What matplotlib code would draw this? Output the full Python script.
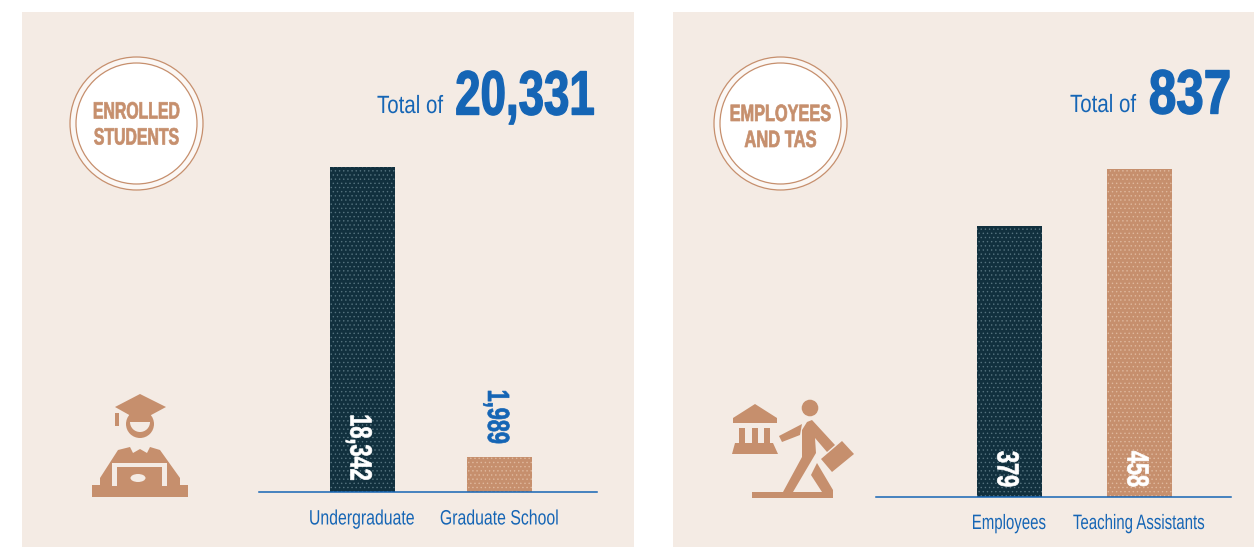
import matplotlib
matplotlib.use("Agg")
import matplotlib.pyplot as plt
from matplotlib.patches import Rectangle, Circle, Polygon, Ellipse, Wedge
from matplotlib.patheffects import AbstractPathEffect
from matplotlib.transforms import Affine2D, Bbox

students_labels = ["Undergraduate", "Graduate School"]
students_values = [18342, 1989]
staff_labels = ["Employees", "Teaching Assistants"]
staff_values = [379, 458]

PANEL = "#f4ebe4"
TAN = "#c68f6d"
NAVY = "#11303e"
BLUE = "#1565b5"
FONT = ["Liberation Sans", "DejaVu Sans"]
W, H = 1254, 548

plt.rcParams["hatch.linewidth"] = 0.5
fig = plt.figure(figsize=(W / 100, H / 100), dpi=100, facecolor="white")


class Squeeze(AbstractPathEffect):
    # no condensed font here, so squeeze the glyphs around the centre of the text
    def __init__(self, extent, sx=1.0, sy=1.0, stroke=0):
        super().__init__()
        self.extent = extent
        self.sx = sx
        self.sy = sy
        self.stroke = stroke

    def draw_path(self, renderer, gc, tpath, affine, rgbFace=None):
        bb = self.extent()
        cx, cy = (bb.x0 + bb.x1) / 2, (bb.y0 + bb.y1) / 2
        squeeze = Affine2D().translate(-cx, -cy).scale(self.sx, self.sy).translate(cx, cy)
        gc0 = renderer.new_gc()
        gc0.copy_properties(gc)
        if self.stroke:
            gc0.set_foreground(rgbFace)
            gc0.set_linewidth(self.stroke)
        renderer.draw_path(gc0, tpath, affine + squeeze, rgbFace)
        gc0.restore()


def narrow(txt, sx=1.0, sy=1.0, stroke=0):
    full_extent = txt.get_window_extent

    # report the box of the squeezed glyphs, not of the full width text
    def squeezed_extent(renderer=None, dpi=None):
        bb = full_extent(renderer, dpi)
        cx, cy = (bb.x0 + bb.x1) / 2, (bb.y0 + bb.y1) / 2
        return Bbox.from_extents(cx - bb.width * sx / 2, cy - bb.height * sy / 2,
                                 cx + bb.width * sx / 2, cy + bb.height * sy / 2)

    txt.set_path_effects([Squeeze(full_extent, sx, sy, stroke)])
    txt.get_window_extent = squeezed_extent
    return txt


# background layer in pixel coordinates
bg = fig.add_axes([0, 0, 1, 1], zorder=0)
bg.set_xlim(0, W)
bg.set_ylim(H, 0)
bg.axis("off")


def poly(pts, color=TAN, z=3):
    bg.add_patch(Polygon(pts, closed=True, fc=color, ec="none", zorder=z))


def rect(x, y, w, h, color=TAN, z=3):
    bg.add_patch(Rectangle((x, y), w, h, fc=color, ec="none", zorder=z))


def badge(cx, cy, lines):
    bg.add_patch(Circle((cx, cy), 66.5, fc="#fbf7f4", ec=TAN, lw=0.9, zorder=2))
    bg.add_patch(Circle((cx, cy), 60.5, fc="white", ec=TAN, lw=0.9, zorder=2))
    for text, y, sx in lines:
        narrow(bg.text(cx, y, text, color=TAN, fontsize=17, fontweight="bold", family=FONT,
                       ha="center", va="center", zorder=4), sx=sx, stroke=0.5)


def total(label_cx, label_y, num_cx, num_y, num, num_sx):
    narrow(bg.text(label_cx, label_y, "Total of", color=BLUE, fontsize=18, family=FONT,
                   ha="center", va="center"), sx=0.82)
    narrow(bg.text(num_cx, num_y, num, color=BLUE, fontsize=45, fontweight="bold", family=FONT,
                   ha="center", va="center"), sx=num_sx, stroke=1.0)


def student_icon():
    rect(92, 485, 96, 12)
    # body and collar
    poly([(130, 447), (118, 450), (100, 478), (100, 486), (180, 486), (180, 478), (160, 450), (150, 447),
          (147, 453), (140, 449), (133, 453)])
    # laptop
    rect(112, 463, 55, 23, PANEL, 4)
    rect(117, 467, 45, 19, TAN, 5)
    bg.add_patch(Ellipse((138, 478), 15, 8, fc=PANEL, ec="none", zorder=6))
    # head and cap
    bg.add_patch(Circle((140, 424), 14, fc=TAN, ec="none", zorder=3))
    bg.add_patch(Wedge((140, 422), 10, 0, 180, fc=PANEL, ec="none", zorder=4))
    poly([(140, 394), (166, 407), (140, 421), (115, 407)], TAN, 5)
    rect(115, 413, 3.5, 13, TAN, 5)


def staff_icon():
    # building
    poly([(755, 404), (777, 418), (777, 423), (733, 423), (733, 418)])
    for x in (739, 751.5, 764):
        rect(x, 428, 6, 16)
    poly([(735, 443), (773, 443), (778, 454), (732, 454)])
    # walking person
    bg.add_patch(Circle((810, 408), 8.3, fc=TAN, ec="none", zorder=3))
    poly([(802, 424), (800, 435), (782, 442), (779, 436)])
    poly([(812, 420), (835, 445), (827, 452), (815, 438), (816, 453), (793, 492), (783, 492), (802, 457),
          (802, 430), (807, 422)])
    poly([(817, 463), (833, 490), (833, 498), (752, 498), (752, 492), (822, 492), (811, 475)])
    # briefcase
    poly([(842, 441), (854, 454), (832, 472), (821, 459)])


rect(22, 12, 612, 535, PANEL, 1)
rect(673, 12, 581, 535, PANEL, 1)

badge(136.5, 123.5, [("ENROLLED", 112, 0.67), ("STUDENTS", 138, 0.67)])
badge(780.5, 123.5, [("EMPLOYEES", 114.5, 0.69), ("AND TAS", 140.5, 0.7)])
total(410, 106, 525, 98, "20,331", 0.73)
total(1103, 105, 1190, 97, "837", 0.79)
student_icon()
staff_icon()


def bar_panel(x0, x1, base, top, labels, values, c0, c1, bw, tick_y, label_sx):
    ax = fig.add_axes([x0 / W, 1 - base / H, (x1 - x0) / W, (base - top) / H], zorder=2)
    ax.patch.set_alpha(0)
    step = c1 - c0
    positions = [0, 1]
    ax.set_xlim((x0 - c0) / step, (x1 - c0) / step)
    ax.set_ylim(0, max(values))
    bars = ax.bar(positions, values, bw / step, color=[NAVY, TAN])
    for b, hc in zip(bars, ["#55737f", "#dfb89d"]):
        b.set_hatch("....")
        b.set_edgecolor(hc)
        b.set_linewidth(0)
    for s in ("top", "left", "right"):
        ax.spines[s].set_visible(False)
    ax.spines["bottom"].set_color(BLUE)
    ax.spines["bottom"].set_linewidth(1.1)
    ax.set_yticks([])
    ax.set_xticks(positions)
    ax.set_xticklabels([])
    ax.tick_params(length=0)
    for pos, lab in zip(positions, labels):
        narrow(bg.text(c0 + pos * step, tick_y, lab, color=BLUE, fontsize=15, family=FONT,
                       ha="center", va="center", zorder=4), sx=label_sx)
    return ax


def value_label(ax, x, y, offset_px, val, color):
    narrow(ax.annotate(f"{val:,}", (x, y), xytext=(-2.5, offset_px * 0.72), textcoords="offset points",
                       rotation=270, color=color, fontsize=22, fontweight="bold", family=FONT,
                       ha="center", va="center"), sy=0.71, stroke=0.5)


ax1 = bar_panel(259, 597, 492, 167, students_labels, students_values, 362, 499.5, 65, 519, 0.76)
ax2 = bar_panel(876, 1231, 497, 169, staff_labels, staff_values, 1009, 1139, 65, 523.5, 0.72)

value_label(ax1, 0, 0, 44.5, students_values[0], "white")
value_label(ax1, 1, students_values[1], 40, students_values[1], BLUE)
for pos, val in enumerate(staff_values):
    value_label(ax2, pos, 0, 28, val, "white")

fig.savefig("out.png", dpi=100, facecolor="white")
